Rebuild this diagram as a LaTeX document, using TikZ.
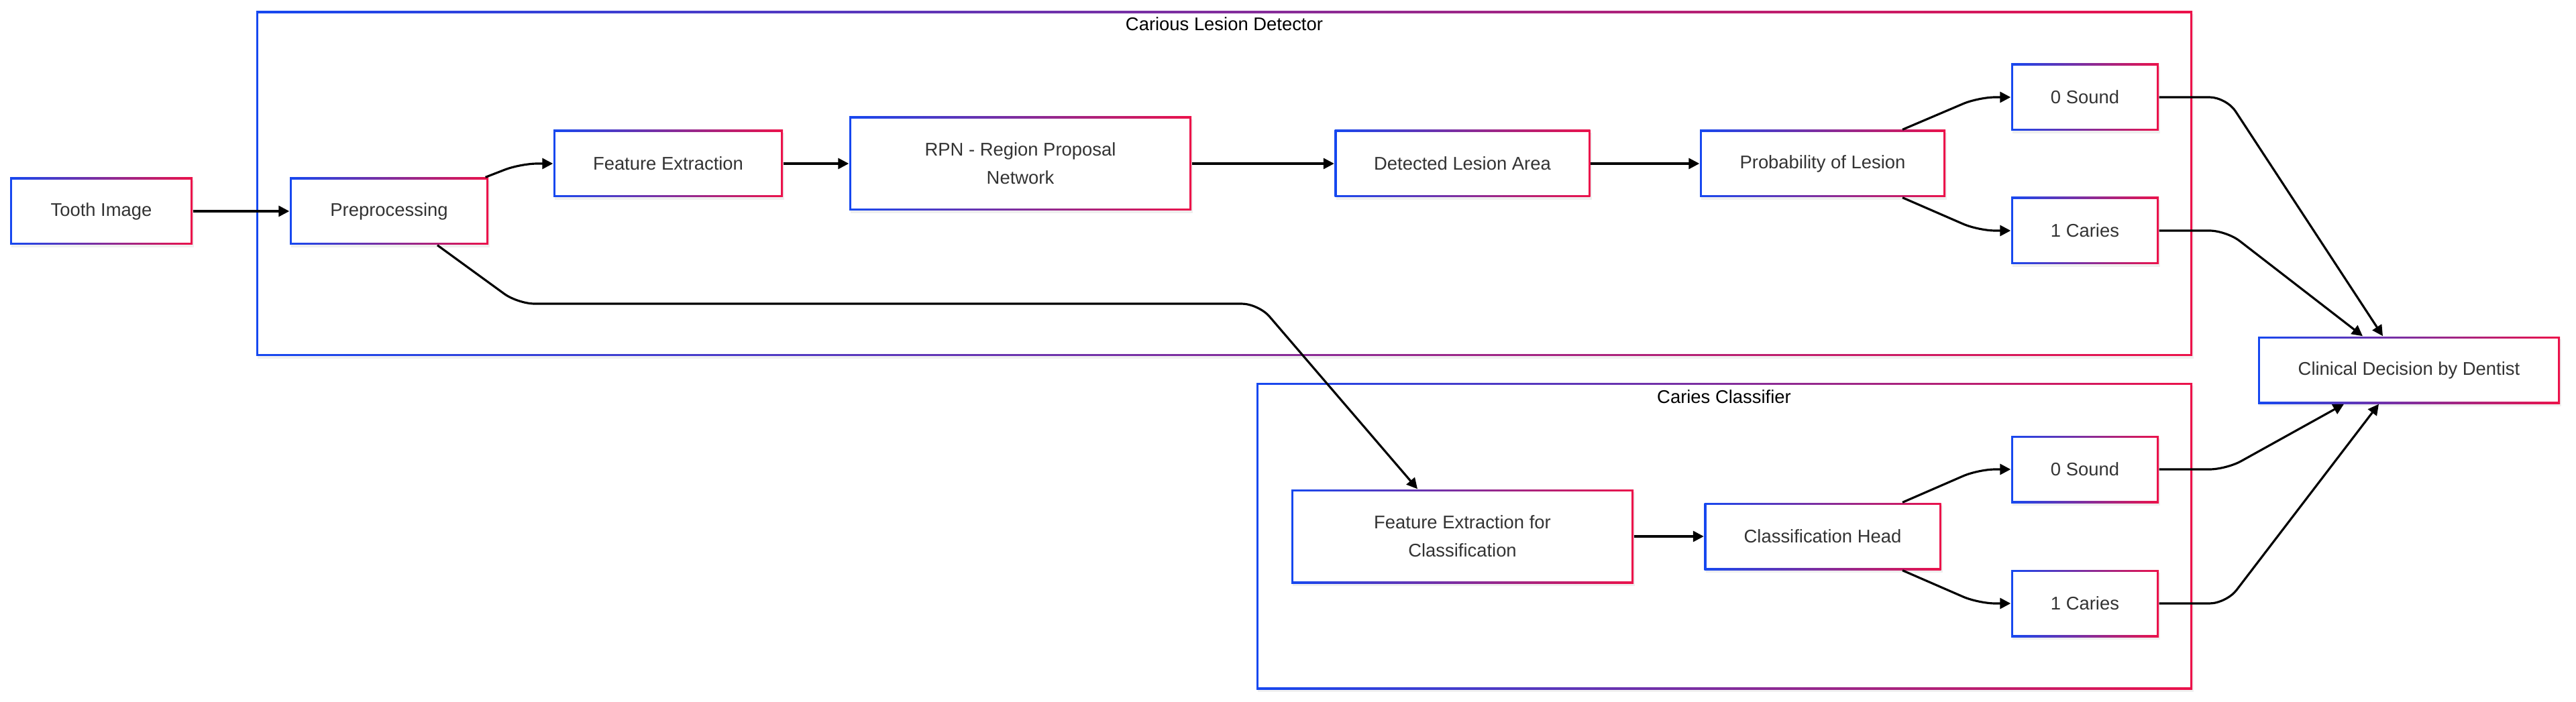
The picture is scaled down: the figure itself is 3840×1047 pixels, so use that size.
\documentclass[tikz,border=0pt]{standalone}
\usepackage{fontspec}
\setmainfont{Liberation Sans}
\usetikzlibrary{arrows.meta,shadows}
\definecolor{edgeblue}{RGB}{22,72,240}
\definecolor{edgered}{RGB}{236,18,74}
\definecolor{txtgray}{RGB}{51,51,51}
\begin{document}
\begin{tikzpicture}[x=.1mm,y=-.1mm,font=\fontsize{7.8}{11.9}\selectfont,
  gbox/.style={rectangle,inner sep=0pt,left color=edgeblue,right color=edgered,
    drop shadow={shadow xshift=.2mm,shadow yshift=-.4mm,opacity=.12},
    path picture={\fill[white]([shift={(.3mm,.3mm)}]path picture bounding box.south west)rectangle([shift={(-.3mm,-.3mm)}]path picture bounding box.north east);}},
  procbox/.style={gbox,text=txtgray,align=center,minimum height=10mm},
  edge/.style={line width=.9pt,-{Triangle[length=1.6mm,width=1.6mm]},rounded corners=2.5mm}]
\useasboundingbox(0,0)rectangle(3840,1047);
% clusters
\node[gbox,minimum width=288.6mm,minimum height=51.4mm](detector)at(1825,274){};
\node(detectorlbl)at(1825,36){Carious Lesion Detector};
\node[gbox,minimum width=139.5mm,minimum height=45.7mm](classifier)at(2570.5,799.5){};
\node(classifierlbl)at(2570,592){Caries Classifier};
% steps
\node[procbox,minimum width=27.2mm](tooth)at(151,315){Tooth Image};
\node[procbox,minimum width=29.6mm](prep)at(580,315){Preprocessing};
\node[procbox,minimum width=34.2mm](featx)at(996,244){Feature Extraction};
\node[procbox,minimum width=51mm,minimum height=14mm](rpn)at(1521,244){RPN - Region Proposal\\Network};
\node[procbox,minimum width=38.1mm](detect)at(2180,244){Detected Lesion Area};
\node[procbox,minimum width=36.6mm](prob)at(2717,244){Probability of Lesion};
\node[procbox,minimum width=22mm](sounda)at(3108,145){0 Sound};
\node[procbox,minimum width=22mm](cariesa)at(3108,344){1 Caries};
\node[procbox,minimum width=51mm,minimum height=14mm](fecls)at(2180,800){Feature Extraction for\\Classification};
\node[procbox,minimum width=35.3mm](head)at(2717,800){Classification Head};
\node[procbox,minimum width=22mm](soundb)at(3108,700){0 Sound};
\node[procbox,minimum width=22mm](cariesb)at(3108,900){1 Caries};
\node[procbox,minimum width=45mm](clinic)at(3591,552){Clinical Decision by Dentist};
% edges
\draw[edge](tooth.east)--(prep.west);
\draw[edge]([xshift=-.5mm]prep.north east)--(776,244)--(featx.west);
\draw[edge](featx.east)--(rpn.west);
\draw[edge](rpn.east)--(detect.west);
\draw[edge](detect.east)--(prob.west);
\draw[edge]([xshift=11.9mm]prob.north)--([xshift=-4.8mm]sounda.west)--(sounda.west);
\draw[edge]([xshift=11.9mm]prob.south)--([xshift=-4.8mm]cariesa.west)--(cariesa.west);
\draw[edge]([xshift=7.2mm]prep.south)--(772,453)--(1876,453)--([xshift=-6.7mm]fecls.north);
\draw[edge](fecls.east)--(head.west);
\draw[edge]([xshift=11.9mm]head.north)--([xshift=-4.8mm]soundb.west)--(soundb.west);
\draw[edge]([xshift=11.9mm]head.south)--([xshift=-4.8mm]cariesb.west)--(cariesb.west);
\draw[edge](sounda.east)--([xshift=10mm]sounda.east)--([xshift=-3.9mm]clinic.north);
\draw[edge](cariesa.east)--([xshift=10mm]cariesa.east)--([xshift=-6.9mm]clinic.north);
\draw[edge](soundb.east)--([xshift=10mm]soundb.east)--([xshift=-9.7mm]clinic.south);
\draw[edge](cariesb.east)--([xshift=10mm]cariesb.east)--([xshift=-4.5mm]clinic.south);
\end{tikzpicture}
\end{document}
